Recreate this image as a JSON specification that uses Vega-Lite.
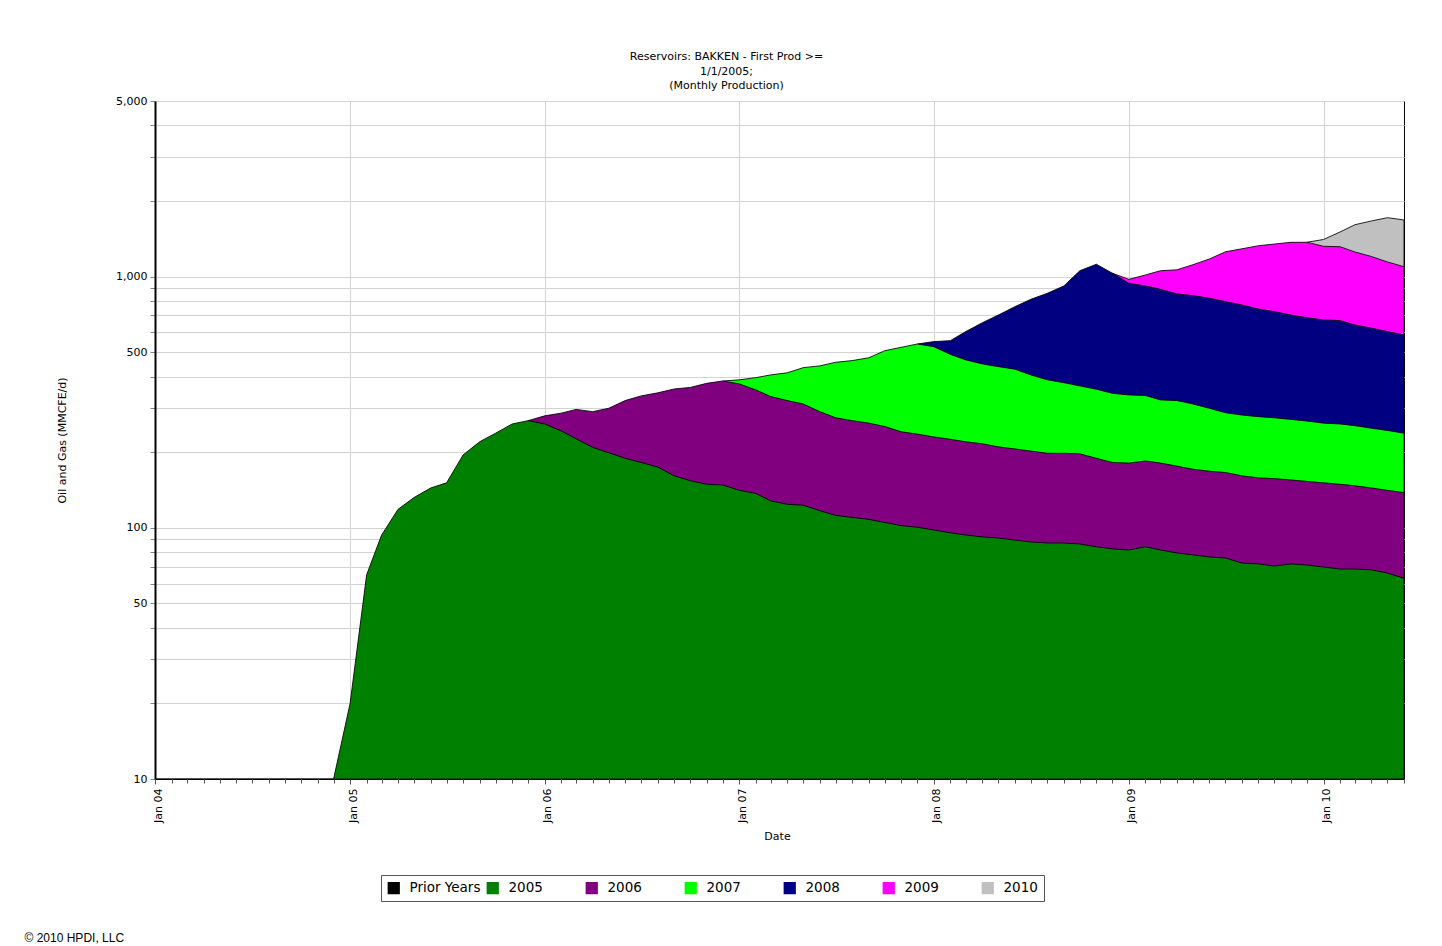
{
  "$schema": "https://vega.github.io/schema/vega-lite/v6.json",
  "width": 1249,
  "height": 678,
  "autosize": "none",
  "padding": {"left": 155, "top": 101, "right": 38, "bottom": 167},
  "background": "#ffffff",
  "title": {
    "text": ["Reservoirs: BAKKEN - First Prod >=", "1/1/2005;", "(Monthly Production)"],
    "font": "DejaVu Sans", "fontSize": 11, "fontWeight": "normal", "color": "#000000",
    "lineHeight": 14.5, "anchor": "middle", "frame": "group", "dx": -53, "offset": 4
  },
  "data": {"values": [
    {"date":"2004/01/01","vintage":"2005","value":10},{"date":"2004/02/01","vintage":"2005","value":10},{"date":"2004/03/01","vintage":"2005","value":10},{"date":"2004/04/01","vintage":"2005","value":10},{"date":"2004/05/01","vintage":"2005","value":10},{"date":"2004/06/01","vintage":"2005","value":10},{"date":"2004/07/01","vintage":"2005","value":10},{"date":"2004/08/01","vintage":"2005","value":10},{"date":"2004/09/01","vintage":"2005","value":10},{"date":"2004/10/01","vintage":"2005","value":10},{"date":"2004/11/01","vintage":"2005","value":10},{"date":"2004/12/01","vintage":"2005","value":10},
    {"date":"2005/01/01","vintage":"2005","value":20},{"date":"2005/02/01","vintage":"2005","value":65},{"date":"2005/03/01","vintage":"2005","value":93.5},{"date":"2005/04/01","vintage":"2005","value":118.5},{"date":"2005/05/01","vintage":"2005","value":132},{"date":"2005/06/01","vintage":"2005","value":144},{"date":"2005/07/01","vintage":"2005","value":151},{"date":"2005/08/01","vintage":"2005","value":195},{"date":"2005/09/01","vintage":"2005","value":220},{"date":"2005/10/01","vintage":"2005","value":238},{"date":"2005/11/01","vintage":"2005","value":259},{"date":"2005/12/01","vintage":"2005","value":267},
    {"date":"2006/01/01","vintage":"2005","value":259},{"date":"2006/02/01","vintage":"2005","value":243},{"date":"2006/03/01","vintage":"2005","value":226},{"date":"2006/04/01","vintage":"2005","value":209},{"date":"2006/05/01","vintage":"2005","value":199},{"date":"2006/06/01","vintage":"2005","value":189},{"date":"2006/07/01","vintage":"2005","value":182},{"date":"2006/08/01","vintage":"2005","value":174.5},{"date":"2006/09/01","vintage":"2005","value":161},{"date":"2006/10/01","vintage":"2005","value":154},{"date":"2006/11/01","vintage":"2005","value":149},{"date":"2006/12/01","vintage":"2005","value":148},
    {"date":"2007/01/01","vintage":"2005","value":141},{"date":"2007/02/01","vintage":"2005","value":137},{"date":"2007/03/01","vintage":"2005","value":128},{"date":"2007/04/01","vintage":"2005","value":124},{"date":"2007/05/01","vintage":"2005","value":123},{"date":"2007/06/01","vintage":"2005","value":117},{"date":"2007/07/01","vintage":"2005","value":112},{"date":"2007/08/01","vintage":"2005","value":110},{"date":"2007/09/01","vintage":"2005","value":108},{"date":"2007/10/01","vintage":"2005","value":105},{"date":"2007/11/01","vintage":"2005","value":102},{"date":"2007/12/01","vintage":"2005","value":100.5},
    {"date":"2008/01/01","vintage":"2005","value":98},{"date":"2008/02/01","vintage":"2005","value":95.5},{"date":"2008/03/01","vintage":"2005","value":93.6},{"date":"2008/04/01","vintage":"2005","value":92},{"date":"2008/05/01","vintage":"2005","value":91},{"date":"2008/06/01","vintage":"2005","value":89.4},{"date":"2008/07/01","vintage":"2005","value":87.8},{"date":"2008/08/01","vintage":"2005","value":87},{"date":"2008/09/01","vintage":"2005","value":87},{"date":"2008/10/01","vintage":"2005","value":86.2},{"date":"2008/11/01","vintage":"2005","value":84},{"date":"2008/12/01","vintage":"2005","value":82.4},
    {"date":"2009/01/01","vintage":"2005","value":81.6},{"date":"2009/02/01","vintage":"2005","value":84},{"date":"2009/03/01","vintage":"2005","value":81.6},{"date":"2009/04/01","vintage":"2005","value":79.4},{"date":"2009/05/01","vintage":"2005","value":78},{"date":"2009/06/01","vintage":"2005","value":76.5},{"date":"2009/07/01","vintage":"2005","value":75.8},{"date":"2009/08/01","vintage":"2005","value":72.4},{"date":"2009/09/01","vintage":"2005","value":71.8},{"date":"2009/10/01","vintage":"2005","value":70.4},{"date":"2009/11/01","vintage":"2005","value":71.8},{"date":"2009/12/01","vintage":"2005","value":71.1},
    {"date":"2010/01/01","vintage":"2005","value":69.8},{"date":"2010/02/01","vintage":"2005","value":68.5},{"date":"2010/03/01","vintage":"2005","value":68.5},{"date":"2010/04/01","vintage":"2005","value":68},{"date":"2010/05/01","vintage":"2005","value":66},{"date":"2010/06/01","vintage":"2005","value":63},

    {"date":"2005/12/01","vintage":"2006","value":0},
    {"date":"2006/01/01","vintage":"2006","value":20},{"date":"2006/02/01","vintage":"2006","value":43},{"date":"2006/03/01","vintage":"2006","value":70},{"date":"2006/04/01","vintage":"2006","value":81},{"date":"2006/05/01","vintage":"2006","value":100},{"date":"2006/06/01","vintage":"2006","value":132},{"date":"2006/07/01","vintage":"2006","value":153},{"date":"2006/08/01","vintage":"2006","value":170},{"date":"2006/09/01","vintage":"2006","value":196},{"date":"2006/10/01","vintage":"2006","value":208},{"date":"2006/11/01","vintage":"2006","value":227},{"date":"2006/12/01","vintage":"2006","value":236},
    {"date":"2007/01/01","vintage":"2006","value":233},{"date":"2007/02/01","vintage":"2006","value":217},{"date":"2007/03/01","vintage":"2006","value":205},{"date":"2007/04/01","vintage":"2006","value":197},{"date":"2007/05/01","vintage":"2006","value":188},{"date":"2007/06/01","vintage":"2006","value":173},{"date":"2007/07/01","vintage":"2006","value":162},{"date":"2007/08/01","vintage":"2006","value":157},{"date":"2007/09/01","vintage":"2006","value":153},{"date":"2007/10/01","vintage":"2006","value":148},{"date":"2007/11/01","vintage":"2006","value":139},{"date":"2007/12/01","vintage":"2006","value":135.5},
    {"date":"2008/01/01","vintage":"2006","value":132},{"date":"2008/02/01","vintage":"2006","value":129.5},{"date":"2008/03/01","vintage":"2006","value":126.4},{"date":"2008/04/01","vintage":"2006","value":124},{"date":"2008/05/01","vintage":"2006","value":119},{"date":"2008/06/01","vintage":"2006","value":116.6},{"date":"2008/07/01","vintage":"2006","value":114.2},{"date":"2008/08/01","vintage":"2006","value":111},{"date":"2008/09/01","vintage":"2006","value":111},{"date":"2008/10/01","vintage":"2006","value":110.8},{"date":"2008/11/01","vintage":"2006","value":105},{"date":"2008/12/01","vintage":"2006","value":99.6},
    {"date":"2009/01/01","vintage":"2006","value":99.4},{"date":"2009/02/01","vintage":"2006","value":100.5},{"date":"2009/03/01","vintage":"2006","value":99.4},{"date":"2009/04/01","vintage":"2006","value":96.6},{"date":"2009/05/01","vintage":"2006","value":93},{"date":"2009/06/01","vintage":"2006","value":91.5},{"date":"2009/07/01","vintage":"2006","value":90.2},{"date":"2009/08/01","vintage":"2006","value":88.6},{"date":"2009/09/01","vintage":"2006","value":86.2},{"date":"2009/10/01","vintage":"2006","value":86.6},{"date":"2009/11/01","vintage":"2006","value":83.2},{"date":"2009/12/01","vintage":"2006","value":81.9},
    {"date":"2010/01/01","vintage":"2006","value":81.2},{"date":"2010/02/01","vintage":"2006","value":80.5},{"date":"2010/03/01","vintage":"2006","value":78.5},{"date":"2010/04/01","vintage":"2006","value":76},{"date":"2010/05/01","vintage":"2006","value":75},{"date":"2010/06/01","vintage":"2006","value":75},

    {"date":"2006/12/01","vintage":"2007","value":0},
    {"date":"2007/01/01","vintage":"2007","value":14},{"date":"2007/02/01","vintage":"2007","value":42},{"date":"2007/03/01","vintage":"2007","value":73},{"date":"2007/04/01","vintage":"2007","value":93},{"date":"2007/05/01","vintage":"2007","value":123},{"date":"2007/06/01","vintage":"2007","value":151},{"date":"2007/07/01","vintage":"2007","value":182},{"date":"2007/08/01","vintage":"2007","value":196},{"date":"2007/09/01","vintage":"2007","value":214},{"date":"2007/10/01","vintage":"2007","value":254},{"date":"2007/11/01","vintage":"2007","value":282},{"date":"2007/12/01","vintage":"2007","value":303},
    {"date":"2008/01/01","vintage":"2007","value":296},{"date":"2008/02/01","vintage":"2007","value":265},{"date":"2008/03/01","vintage":"2007","value":246},{"date":"2008/04/01","vintage":"2007","value":233},{"date":"2008/05/01","vintage":"2007","value":228},{"date":"2008/06/01","vintage":"2007","value":222},{"date":"2008/07/01","vintage":"2007","value":204},{"date":"2008/08/01","vintage":"2007","value":190},{"date":"2008/09/01","vintage":"2007","value":180},{"date":"2008/10/01","vintage":"2007","value":170},{"date":"2008/11/01","vintage":"2007","value":167},{"date":"2008/12/01","vintage":"2007","value":161},
    {"date":"2009/01/01","vintage":"2007","value":157},{"date":"2009/02/01","vintage":"2007","value":151.5},{"date":"2009/03/01","vintage":"2007","value":142},{"date":"2009/04/01","vintage":"2007","value":145},{"date":"2009/05/01","vintage":"2007","value":140},{"date":"2009/06/01","vintage":"2007","value":131},{"date":"2009/07/01","vintage":"2007","value":121},{"date":"2009/08/01","vintage":"2007","value":120},{"date":"2009/09/01","vintage":"2007","value":119},{"date":"2009/10/01","vintage":"2007","value":117},{"date":"2009/11/01","vintage":"2007","value":115},{"date":"2009/12/01","vintage":"2007","value":113},
    {"date":"2010/01/01","vintage":"2007","value":110},{"date":"2010/02/01","vintage":"2007","value":110},{"date":"2010/03/01","vintage":"2007","value":108},{"date":"2010/04/01","vintage":"2007","value":105},{"date":"2010/05/01","vintage":"2007","value":103},{"date":"2010/06/01","vintage":"2007","value":100},

    {"date":"2007/12/01","vintage":"2008","value":0},
    {"date":"2008/01/01","vintage":"2008","value":25},{"date":"2008/02/01","vintage":"2008","value":66},{"date":"2008/03/01","vintage":"2008","value":138},{"date":"2008/04/01","vintage":"2008","value":206},{"date":"2008/05/01","vintage":"2008","value":265},{"date":"2008/06/01","vintage":"2008","value":331},{"date":"2008/07/01","vintage":"2008","value":406},{"date":"2008/08/01","vintage":"2008","value":470},{"date":"2008/09/01","vintage":"2008","value":540},{"date":"2008/10/01","vintage":"2008","value":689},{"date":"2008/11/01","vintage":"2008","value":764},{"date":"2008/12/01","vintage":"2008","value":688},
    {"date":"2009/01/01","vintage":"2008","value":602},{"date":"2009/02/01","vintage":"2008","value":582},{"date":"2009/03/01","vintage":"2008","value":567},{"date":"2009/04/01","vintage":"2008","value":532},{"date":"2009/05/01","vintage":"2008","value":529},{"date":"2009/06/01","vintage":"2008","value":521},{"date":"2009/07/01","vintage":"2008","value":508},{"date":"2009/08/01","vintage":"2008","value":490},{"date":"2009/09/01","vintage":"2008","value":466},{"date":"2009/10/01","vintage":"2008","value":451},{"date":"2009/11/01","vintage":"2008","value":433},{"date":"2009/12/01","vintage":"2008","value":420},
    {"date":"2010/01/01","vintage":"2008","value":411},{"date":"2010/02/01","vintage":"2008","value":409},{"date":"2010/03/01","vintage":"2008","value":387},{"date":"2010/04/01","vintage":"2008","value":374},{"date":"2010/05/01","vintage":"2008","value":360},{"date":"2010/06/01","vintage":"2008","value":348},

    {"date":"2008/12/01","vintage":"2009","value":0},
    {"date":"2009/01/01","vintage":"2009","value":35},{"date":"2009/02/01","vintage":"2009","value":97},{"date":"2009/03/01","vintage":"2009","value":165},{"date":"2009/04/01","vintage":"2009","value":211},{"date":"2009/05/01","vintage":"2009","value":275},{"date":"2009/06/01","vintage":"2009","value":355},{"date":"2009/07/01","vintage":"2009","value":460},{"date":"2009/08/01","vintage":"2009","value":519},{"date":"2009/09/01","vintage":"2009","value":584},{"date":"2009/10/01","vintage":"2009","value":623},{"date":"2009/11/01","vintage":"2009","value":666},{"date":"2009/12/01","vintage":"2009","value":684},
    {"date":"2010/01/01","vintage":"2009","value":648},{"date":"2010/02/01","vintage":"2009","value":647},{"date":"2010/03/01","vintage":"2009","value":611},{"date":"2010/04/01","vintage":"2009","value":579},{"date":"2010/05/01","vintage":"2009","value":539},{"date":"2010/06/01","vintage":"2009","value":509},

    {"date":"2009/12/01","vintage":"2010","value":0},
    {"date":"2010/01/01","vintage":"2010","value":85},{"date":"2010/02/01","vintage":"2010","value":190},{"date":"2010/03/01","vintage":"2010","value":356},{"date":"2010/04/01","vintage":"2010","value":463},{"date":"2010/05/01","vintage":"2010","value":573},{"date":"2010/06/01","vintage":"2010","value":585}
  ]},
  "transform": [
    {"window": [{"op": "sum", "field": "value", "as": "cum"}], "groupby": ["date"], "sort": [{"field": "vintage", "order": "ascending"}], "frame": [null, 0]}
  ],
  "encoding": {
    "x": {"field": "date", "type": "temporal", "scale": {"domain": [{"year": 2004, "month": 1, "date": 1}, {"year": 2010, "month": 6, "date": 1}]}, "axis": null},
    "y": {"field": "cum", "type": "quantitative", "stack": null,
      "scale": {"type": "log", "domain": [10, 5000], "nice": false},
      "axis": {
        "values": [10,20,30,40,50,60,70,80,90,100,200,300,400,500,600,700,800,900,1000,2000,3000,4000,5000],
        "labelExpr": "(datum.value == 10 || datum.value == 50 || datum.value == 100 || datum.value == 500 || datum.value == 1000 || datum.value == 5000) ? format(datum.value, ',') : ''",
        "labelFont": "DejaVu Sans", "labelFontSize": 11, "labelColor": "#000000", "labelPadding": 3,
        "labelOverlap": false, "labelFlush": false,
        "tickSize": 5, "tickColor": "#888888",
        "grid": true, "gridColor": "#d3d3d3", "gridWidth": 1,
        "domainColor": "#000000", "domainWidth": 2,
        "title": "Oil and Gas (MMCFE/d)", "titleFont": "DejaVu Sans", "titleFontSize": 11, "titleFontWeight": "normal", "titleColor": "#000000",
        "titleX": -93, "titleY": 339, "titleAngle": -90, "titleAlign": "center", "titleBaseline": "middle"
      }
    },
    "color": {"field": "vintage", "type": "nominal",
      "scale": {"domain": ["Prior Years", "2005", "2006", "2007", "2008", "2009", "2010"],
                "range": ["#000000", "#008000", "#800080", "#00ff00", "#000080", "#ff00ff", "#c0c0c0"]},
      "legend": {"title": null, "orient": "none", "legendX": 226, "legendY": 774, "direction": "horizontal",
        "columns": 7, "gridAlign": "all", "columnPadding": 5,
        "symbolType": "square", "symbolSize": 150, "symbolStrokeWidth": 0, "symbolOpacity": 1,
        "labelFont": "DejaVu Sans", "labelFontSize": 13.5, "labelColor": "#000000", "labelOffset": 9,
        "strokeColor": "#555555", "padding": 6, "fillColor": "#ffffff"}
    }
  },
  "layer": [
    {"transform": [{"filter": "datum.vintage == '2010'"}],
     "mark": {"type": "area", "stroke": "#000000", "strokeWidth": 1, "strokeOpacity": 0.85, "clip": true},
     "encoding": {"x": {"field": "date", "type": "temporal", "scale": {"domain": [{"year": 2004, "month": 1, "date": 1}, {"year": 2010, "month": 6, "date": 1}]},
       "axis": {"orient": "bottom", "tickCount": {"interval": "year", "step": 1}, "format": "%b %y",
         "labelAngle": -90, "labelFont": "DejaVu Sans", "labelFontSize": 11, "labelColor": "#000000", "labelPadding": 4, "labelOffset": 3,
         "labelOverlap": false, "labelFlush": false,
         "tickSize": 5, "tickColor": "#555555",
         "grid": true, "gridColor": "#d3d3d3", "gridWidth": 1, "domainColor": "#000000",
         "title": "Date", "titleFont": "DejaVu Sans", "titleFontSize": 11, "titleFontWeight": "normal", "titleColor": "#000000",
         "titleX": 622, "titleY": 57, "titleAlign": "center", "titleBaseline": "middle", "zindex": 0}}}},
    {"transform": [{"filter": "datum.vintage == '2009'"}],
     "mark": {"type": "area", "stroke": "#000000", "strokeWidth": 1, "strokeOpacity": 0.85, "clip": true}},
    {"transform": [{"filter": "datum.vintage == '2008'"}],
     "mark": {"type": "area", "stroke": "#000000", "strokeWidth": 1, "strokeOpacity": 0.85, "clip": true}},
    {"transform": [{"filter": "datum.vintage == '2007'"}],
     "mark": {"type": "area", "stroke": "#000000", "strokeWidth": 1, "strokeOpacity": 0.85, "clip": true}},
    {"transform": [{"filter": "datum.vintage == '2006'"}],
     "mark": {"type": "area", "stroke": "#000000", "strokeWidth": 1, "strokeOpacity": 0.85, "clip": true}},
    {"transform": [{"filter": "datum.vintage == '2005'"}],
     "mark": {"type": "area", "stroke": "#000000", "strokeWidth": 1, "strokeOpacity": 0.85, "clip": true},
     "encoding": {"x": {"field": "date", "type": "temporal", "scale": {"domain": [{"year": 2004, "month": 1, "date": 1}, {"year": 2010, "month": 6, "date": 1}]},
       "axis": {"orient": "bottom", "tickCount": {"interval": "month", "step": 1}, "labels": false, "grid": false, "domain": false,
         "ticks": true, "tickSize": 4, "tickColor": "#555555",
         "title": "© 2010 HPDI, LLC", "titleFont": "Liberation Sans", "titleFontSize": 12, "titleFontWeight": "normal", "titleColor": "#000000",
         "titleX": -131, "titleY": 158, "titleAlign": "left", "titleBaseline": "middle", "zindex": 1}}}}
  ],
  "resolve": {"axis": {"x": "independent"}},
  "config": {
    "view": {"stroke": "#000000", "strokeWidth": 1},
    "font": "DejaVu Sans"
  }
}
